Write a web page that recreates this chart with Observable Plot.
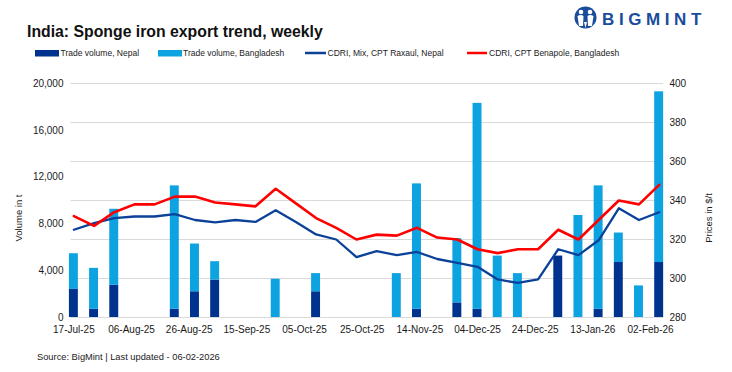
<!DOCTYPE html>
<html><head><meta charset="utf-8">
<script src="https://cdn.jsdelivr.net/npm/d3@7"></script>
<script src="https://cdn.jsdelivr.net/npm/@observablehq/plot@0.6"></script>
<style>
body{margin:0;background:#fff;}
#wrap{position:relative;width:732px;height:372px;overflow:hidden;font-family:"Liberation Sans",Arial,sans-serif;color:#1a1a1a;}
#chart{position:absolute;left:0;top:60px;}
.abs{position:absolute;}
.rot{position:absolute;font-size:9.5px;white-space:nowrap;transform:translate(-50%,-50%) rotate(-90deg);}
</style></head><body>
<div id="wrap">
<svg class="abs" style="left:0;top:0" width="732" height="60">
 <g font-family="Liberation Sans, Arial, sans-serif">
  <text x="27" y="36.7" font-size="15.8" font-weight="bold" fill="#111">India: Sponge iron export trend, weekly</text>
  <rect x="35" y="50" width="24" height="6.5" fill="#00338D"/>
  <text x="60.5" y="55.5" font-size="8.5" fill="#222">Trade volume, Nepal</text>
  <rect x="158" y="50" width="24" height="6.5" fill="#0DA2E0"/>
  <text x="183" y="55.5" font-size="8.5" fill="#222">Trade volume, Bangladesh</text>
  <line x1="305" x2="326" y1="53" y2="53" stroke="#0B4199" stroke-width="2.5"/>
  <text x="327.5" y="55.5" font-size="8.5" fill="#222">CDRI, Mix, CPT Raxaul, Nepal</text>
  <line x1="467" x2="487" y1="53" y2="53" stroke="#FF0000" stroke-width="2.5"/>
  <text x="489" y="55.5" font-size="8.5" fill="#222">CDRI, CPT Benapole, Bangladesh</text>
  <circle cx="585.5" cy="17.5" r="11" fill="#1A4C9C"/>
  <circle cx="581" cy="12" r="2.3" fill="#fff"/>
  <circle cx="590" cy="12" r="2.3" fill="#fff"/>
  <path d="M577.5 16 Q581 14 583.5 16 L583 26 L579 26 Z" fill="#fff"/>
  <path d="M587.5 16 Q590 14 593.5 16 L592 26 L588 26 Z" fill="#fff"/>
  <path d="M584 22 L587 22 L585.5 28 Z" fill="#fff"/>
  <text x="602" y="25" font-size="17" font-weight="bold" letter-spacing="4.6" fill="#1A4C9C">BIGMINT</text>
 </g>
</svg>
<div id="chart"></div>
<div class="rot" style="left:18px;top:218px;">Volume in t</div>
<div class="rot" style="left:708px;top:218px;">Prices in $/t</div>
<svg class="abs" style="left:0;top:340px" width="732" height="32">
  <text x="37" y="20" font-size="9.3" font-family="Liberation Sans, Arial, sans-serif" fill="#222">Source: BigMint | Last updated - 06-02-2026</text>
</svg>
</div>
<script>
const weeks = ["17-Jul-25","24-Jul-25","31-Jul-25","07-Aug-25","14-Aug-25","21-Aug-25","28-Aug-25","04-Sep-25","11-Sep-25","18-Sep-25",
  "25-Sep-25","02-Oct-25","09-Oct-25","16-Oct-25","23-Oct-25","30-Oct-25","06-Nov-25","13-Nov-25","20-Nov-25","27-Nov-25",
  "04-Dec-25","11-Dec-25","18-Dec-25","25-Dec-25","01-Jan-26","08-Jan-26","15-Jan-26","22-Jan-26","29-Jan-26","05-Feb-26"];
const nepalVolume = [2400,700,2750,0,0,700,2200,3200,0,0,
  0,0,2200,0,0,0,0,700,0,1250,
  700,0,0,0,5250,0,700,4700,0,4700];
const bangladeshVolume = [3050,3500,6500,0,0,10550,4080,1570,0,0,
  3270,0,1550,0,0,0,3750,10720,0,5480,
  17600,5250,3750,0,0,8720,10550,2520,2700,14590];
const cdriRaxaulNepal = [325,328.4,331,331.8,331.8,333,330,328.8,330,329,
  335,329,322.6,320,311,314,312,313.6,310,308,
  306,299.5,297.7,299.6,315,312,319.6,336,330,334];
const cdriBenapoleBangladesh = [332,327,334,338,338,342,342,339,338,337,
  346,338.5,331,326,320,322.5,322,326,321,320,
  315,313,315,315,325,320,330,340,338,348];
const xTickLabels = ["17-Jul-25","06-Aug-25","26-Aug-25","15-Sep-25","05-Oct-25","25-Oct-25","14-Nov-25","04-Dec-25","24-Dec-25","13-Jan-26","02-Feb-26"];
const volumeTicks = [0,4000,8000,12000,16000,20000];
const priceTicks = [280,300,320,340,360,380,400];

const NAVY = "#00338D", LIGHT = "#0DA2E0", BLUE = "#0B4199", RED = "#FF0000";
const vMax = volumeTicks[volumeTicks.length-1];
const pMin = priceTicks[0], pMax = priceTicks[priceTicks.length-1];
const priceToVol = p => (p - pMin) / (pMax - pMin) * vMax;
const volToPrice = v => pMin + v / vMax * (pMax - pMin);

const parse = d3.utcParse("%d-%b-%y");
const fmt = d3.utcFormat("%d-%b-%y");
const rows = weeks.map((w,i)=>({date: parse(w), nepal: nepalVolume[i], bang: bangladeshVolume[i],
  raxaul: cdriRaxaulNepal[i], benapole: cdriBenapoleBangladesh[i]}));
const half = 1.55*864e5;
const x1 = d => new Date(+d.date - half), x2 = d => new Date(+d.date + half);

const chart = Plot.plot({
  width: 732, height: 290,
  marginTop: 23, marginBottom: 33, marginLeft: 70.5, marginRight: 69,
  style: {fontFamily: "Liberation Sans, Arial, sans-serif", fontSize: "10px", color: "#1a1a1a", background: "transparent"},
  x: {type: "utc", domain: [new Date(Date.UTC(2025,6,16)), new Date(Date.UTC(2026,1,6,12))]},
  y: {domain: [0, vMax]},
  marks: [
    Plot.gridY({ticks: priceTicks.map(priceToVol), stroke: "#d9d9d9", strokeOpacity: 1, strokeWidth: 1.2}),
    Plot.rect(rows.filter(d=>d.nepal>0), {x1, x2, y1: d=>0, y2: d=>d.nepal, fill: NAVY}),
    Plot.rect(rows.filter(d=>d.bang>0), {x1, x2, y1: d=>d.nepal, y2: d=>d.nepal+d.bang, fill: LIGHT}),
    Plot.line(rows, {x: "date", y: d=>priceToVol(d.raxaul), stroke: BLUE, strokeWidth: 2.3}),
    Plot.line(rows, {x: "date", y: d=>priceToVol(d.benapole), stroke: RED, strokeWidth: 2.6}),
    Plot.axisY({ticks: volumeTicks, anchor: "left", tickSize: 0, tickPadding: 7.5, tickFormat: d3.format(","), label: null}),
    Plot.axisY({ticks: priceTicks.map(priceToVol), anchor: "right", tickSize: 0, tickPadding: 6, tickFormat: v => String(Math.round(volToPrice(v))), label: null}),
    Plot.axisX({ticks: xTickLabels.map(parse), tickSize: 0, tickPadding: 8, tickFormat: fmt, label: null})
  ]
});
document.getElementById("chart").appendChild(chart);
</script>
</body></html>
